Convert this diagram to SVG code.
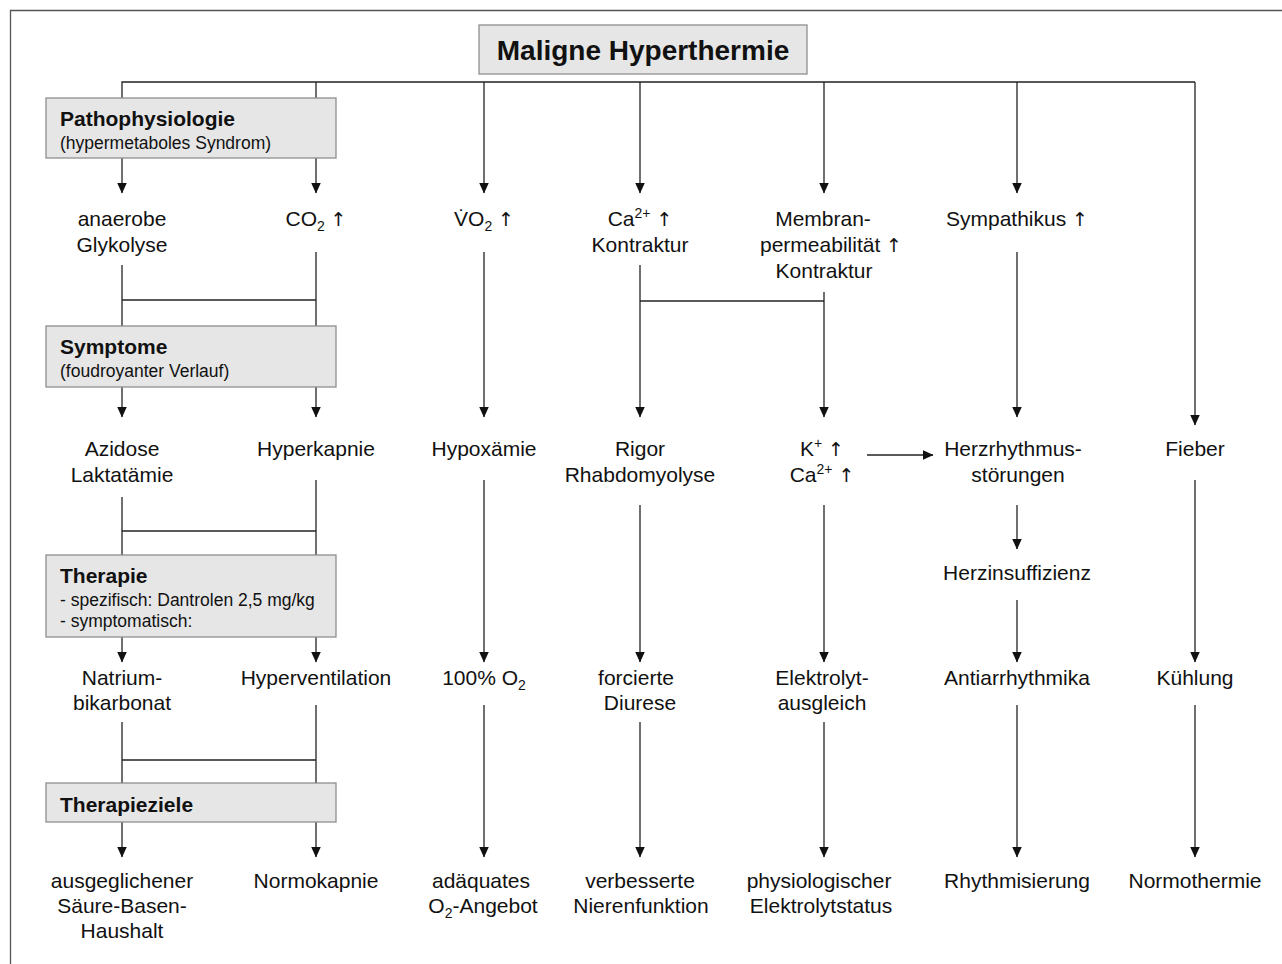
<svg xmlns="http://www.w3.org/2000/svg" width="1282" height="964" viewBox="0 0 1282 964">
<style>
.t{font-family:"Liberation Sans",Arial,sans-serif;font-size:21px;fill:#111;text-anchor:middle}
.h{font-family:"Liberation Sans",Arial,sans-serif;font-size:21px;font-weight:bold;fill:#111}
.s{font-family:"Liberation Sans",Arial,sans-serif;font-size:17.5px;fill:#111}
.ti{font-family:"Liberation Sans",Arial,sans-serif;font-size:28px;font-weight:bold;fill:#111;text-anchor:middle}
.box{fill:#e6e6e6;stroke:#8f8f8f;stroke-width:1.3}
.c{stroke:#222;stroke-width:1.3;fill:none}
.a{stroke:#222;stroke-width:1.3;fill:none;marker-end:url(#ah)}
.sub{font-size:14px}
.up{font-family:"DejaVu Sans",sans-serif;font-size:19px}
</style>
<defs>
<marker id="ah" markerUnits="userSpaceOnUse" markerWidth="11" markerHeight="10" viewBox="0 0 11 10" refX="10.5" refY="5" orient="auto">
<path d="M0,0 L11,5 L0,10 z" fill="#111"/>
</marker>
</defs>
<rect width="1282" height="964" fill="#fff"/>
<path d="M10.5,964 V10.5 H1282" fill="none" stroke="#555" stroke-width="1.3"/>

<g id="connectors">
<path class="c" d="M122,98 V82 H1195"/>
<path class="c" d="M316,98 V82"/>
<path class="a" d="M122,158 V193"/>
<path class="a" d="M316,158 V193"/>
<path class="a" d="M484,82 V193"/>
<path class="a" d="M640,82 V193"/>
<path class="a" d="M824,82 V193"/>
<path class="a" d="M1017,82 V193"/>
<path class="a" d="M1195,82 V425"/>

<path class="c" d="M122,265 V326"/>
<path class="c" d="M316,252 V326"/>
<path class="c" d="M122,300 H316"/>
<path class="a" d="M122,387 V417"/>
<path class="a" d="M316,387 V417"/>
<path class="a" d="M484,252 V417"/>
<path class="a" d="M640,265 V417"/>
<path class="a" d="M824,292 V417"/>
<path class="c" d="M640,301 H824"/>
<path class="a" d="M1017,252 V417"/>

<path class="c" d="M122,497 V555"/>
<path class="c" d="M316,480 V555"/>
<path class="c" d="M122,531 H316"/>
<path class="a" d="M122,637 V662"/>
<path class="a" d="M316,637 V662"/>
<path class="a" d="M484,480 V662"/>
<path class="a" d="M640,505 V662"/>
<path class="a" d="M824,505 V662"/>
<path class="a" d="M867,455 H933"/>
<path class="a" d="M1017,505 V549"/>
<path class="a" d="M1017,600 V662"/>
<path class="a" d="M1195,480 V662"/>

<path class="c" d="M122,722 V783"/>
<path class="c" d="M316,705 V783"/>
<path class="c" d="M122,760 H316"/>
<path class="a" d="M122,822 V857"/>
<path class="a" d="M316,822 V857"/>
<path class="a" d="M484,705 V857"/>
<path class="a" d="M640,722 V857"/>
<path class="a" d="M824,722 V857"/>
<path class="a" d="M1017,705 V857"/>
<path class="a" d="M1195,705 V857"/>
</g>

<g id="title">
<rect class="box" x="479" y="25" width="328" height="49"/>
<text class="ti" x="643" y="60">Maligne Hyperthermie</text>
</g>

<g id="pathophysiologie">
<rect class="box" x="46" y="98" width="290" height="60"/>
<text class="h" x="60" y="126">Pathophysiologie</text>
<text class="s" x="60" y="149">(hypermetaboles Syndrom)</text>
</g>
<g id="symptome">
<rect class="box" x="46" y="326" width="290" height="61"/>
<text class="h" x="60" y="354">Symptome</text>
<text class="s" x="60" y="377">(foudroyanter Verlauf)</text>
</g>
<g id="therapie">
<rect class="box" x="46" y="555" width="290" height="82"/>
<text class="h" x="60" y="583">Therapie</text>
<text class="s" x="60" y="606">- spezifisch: Dantrolen 2,5 mg/kg</text>
<text class="s" x="60" y="627">- symptomatisch:</text>
</g>
<g id="therapieziele">
<rect class="box" x="46" y="783" width="290" height="39"/>
<text class="h" x="60" y="812">Therapieziele</text>
</g>

<g id="anaerobe-glykolyse"><text class="t" x="122" y="226">anaerobe</text><text class="t" x="122" y="252">Glykolyse</text></g>
<g id="co2"><text class="t" x="316" y="226">CO<tspan class="sub" dy="5">2</tspan><tspan dy="-5"> </tspan><tspan class="up">↑</tspan></text></g>
<g id="vo2"><text class="t" x="484" y="226">V̇O<tspan class="sub" dy="5">2</tspan><tspan dy="-5"> </tspan><tspan class="up">↑</tspan></text></g>
<g id="ca-kontraktur"><text class="t" x="640" y="226">Ca<tspan class="sub" dy="-8">2+</tspan><tspan dy="8"> </tspan><tspan class="up">↑</tspan></text><text class="t" x="640" y="252">Kontraktur</text></g>
<g id="membranpermeabilitaet"><text class="t" x="823" y="226">Membran-</text><text class="t" x="831" y="252">permeabilität <tspan class="up">↑</tspan></text><text class="t" x="824" y="278">Kontraktur</text></g>
<g id="sympathikus"><text class="t" x="1017" y="226">Sympathikus <tspan class="up">↑</tspan></text></g>

<g id="azidose"><text class="t" x="122" y="456">Azidose</text><text class="t" x="122" y="482">Laktatämie</text></g>
<g id="hyperkapnie"><text class="t" x="316" y="456">Hyperkapnie</text></g>
<g id="hypoxaemie"><text class="t" x="484" y="456">Hypoxämie</text></g>
<g id="rigor"><text class="t" x="640" y="456">Rigor</text><text class="t" x="640" y="482">Rhabdomyolyse</text></g>
<g id="kalium-calcium"><text class="t" x="822" y="456">K<tspan class="sub" dy="-8">+</tspan><tspan dy="8"> </tspan><tspan class="up">↑</tspan></text><text class="t" x="822" y="482">Ca<tspan class="sub" dy="-8">2+</tspan><tspan dy="8"> </tspan><tspan class="up">↑</tspan></text></g>
<g id="herzrhythmusstoerungen"><text class="t" x="1013" y="456">Herzrhythmus-</text><text class="t" x="1018" y="482">störungen</text></g>
<g id="fieber"><text class="t" x="1195" y="456">Fieber</text></g>
<g id="herzinsuffizienz"><text class="t" x="1017" y="580">Herzinsuffizienz</text></g>

<g id="natriumbikarbonat"><text class="t" x="122" y="685">Natrium-</text><text class="t" x="122" y="710">bikarbonat</text></g>
<g id="hyperventilation"><text class="t" x="316" y="685">Hyperventilation</text></g>
<g id="o2-100"><text class="t" x="484" y="685">100% O<tspan class="sub" dy="5">2</tspan></text></g>
<g id="forcierte-diurese"><text class="t" x="636" y="685">forcierte</text><text class="t" x="640" y="710">Diurese</text></g>
<g id="elektrolytausgleich"><text class="t" x="822" y="685">Elektrolyt-</text><text class="t" x="822" y="710">ausgleich</text></g>
<g id="antiarrhythmika"><text class="t" x="1017" y="685">Antiarrhythmika</text></g>
<g id="kuehlung"><text class="t" x="1195" y="685">Kühlung</text></g>

<g id="saeure-basen"><text class="t" x="122" y="888">ausgeglichener</text><text class="t" x="122" y="913">Säure-Basen-</text><text class="t" x="122" y="938">Haushalt</text></g>
<g id="normokapnie"><text class="t" x="316" y="888">Normokapnie</text></g>
<g id="o2-angebot"><text class="t" x="481" y="888">adäquates</text><text class="t" x="483" y="913">O<tspan class="sub" dy="5">2</tspan><tspan dy="-5">-Angebot</tspan></text></g>
<g id="nierenfunktion"><text class="t" x="640" y="888">verbesserte</text><text class="t" x="641" y="913">Nierenfunktion</text></g>
<g id="elektrolytstatus"><text class="t" x="819" y="888">physiologischer</text><text class="t" x="821" y="913">Elektrolytstatus</text></g>
<g id="rhythmisierung"><text class="t" x="1017" y="888">Rhythmisierung</text></g>
<g id="normothermie"><text class="t" x="1195" y="888">Normothermie</text></g>
</svg>
